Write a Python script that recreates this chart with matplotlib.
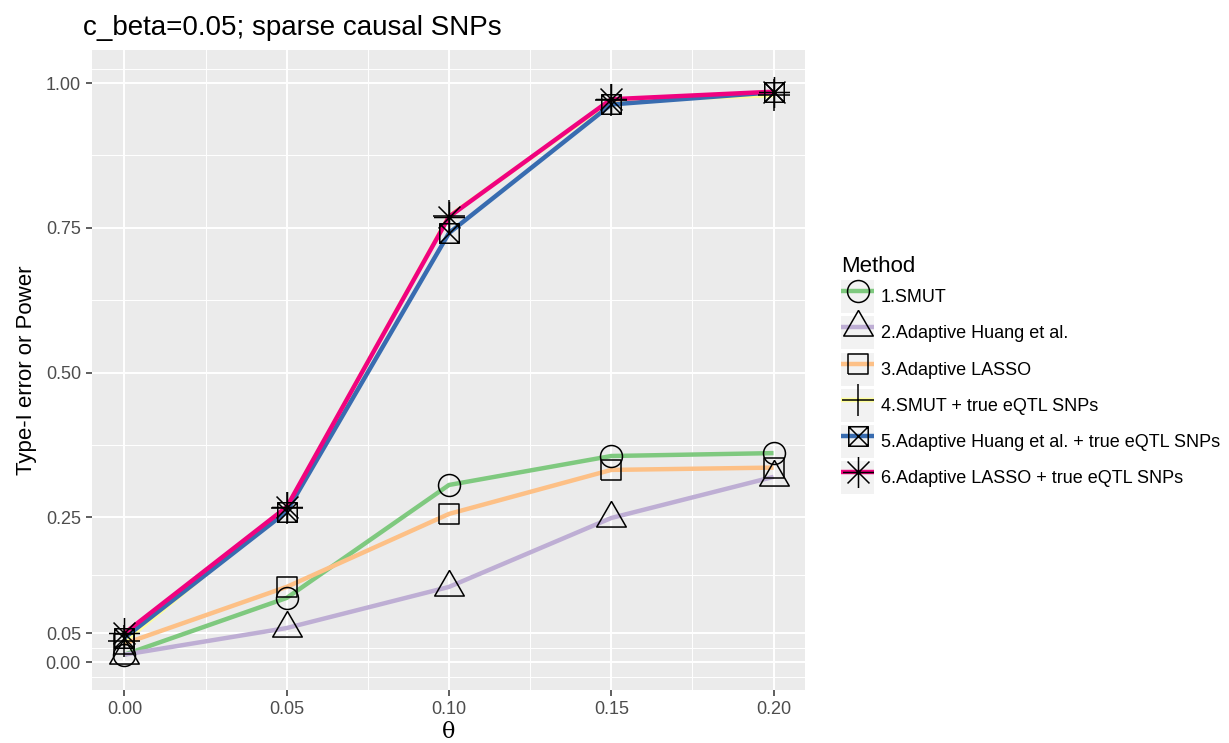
import numpy as np
import matplotlib
matplotlib.use("Agg")
import matplotlib.pyplot as plt
from matplotlib.path import Path
from matplotlib.lines import Line2D
from matplotlib.patches import Rectangle
from matplotlib.legend_handler import HandlerLine2D

plt.rcParams['font.family'] = ['Liberation Sans', 'DejaVu Sans']

# data
theta = [0.00, 0.05, 0.10, 0.15, 0.20]
methods = ["1.SMUT", "2.Adaptive Huang et al.", "3.Adaptive LASSO",
           "4.SMUT + true eQTL SNPs", "5.Adaptive Huang et al. + true eQTL SNPs",
           "6.Adaptive LASSO + true eQTL SNPs"]
smut = [0.013, 0.111, 0.306, 0.356, 0.361]
huang = [0.013, 0.059, 0.130, 0.249, 0.320]
lasso = [0.032, 0.130, 0.256, 0.332, 0.336]
smut_true = [0.036, 0.267, 0.770, 0.970, 0.979]
huang_true = [0.042, 0.260, 0.741, 0.963, 0.984]
lasso_true = [0.050, 0.268, 0.769, 0.972, 0.985]
series = [smut, huang, lasso, smut_true, huang_true, lasso_true]
colors = ["#7FC97F", "#BEAED4", "#FDC086", "#FFFF99", "#386CB0", "#F0027F"]
y_ticks = [0.00, 0.05, 0.25, 0.50, 0.75, 1.00]
x_ticks = [0.00, 0.05, 0.10, 0.15, 0.20]

# R-style point shapes (units of circle radius)
s2 = np.sqrt(2)
sq = 0.886
M, L = Path.MOVETO, Path.LINETO
circle_m = "o"
tri_m = Path([(0, 1.555), (1.347, -0.778), (-1.347, -0.778), (0, 1.555)],
             [M, L, L, L])
square_m = Path([(-sq, -sq), (sq, -sq), (sq, sq), (-sq, sq), (-sq, -sq)],
                [M, L, L, L, L])
plus_m = Path([(-s2, 0), (s2, 0), (0, -s2), (0, s2)], [M, L, M, L])
boxx_m = Path([(-sq, -sq), (sq, -sq), (sq, sq), (-sq, sq), (-sq, -sq),
               (sq, sq), (-sq, sq), (sq, -sq)],
              [M, L, L, L, L, L, M, L])
star_m = Path([(-1, -1), (1, 1), (-1, 1), (1, -1), (-s2, 0), (s2, 0), (0, -s2), (0, s2)],
              [M, L, M, L, M, L, M, L])
markers = [circle_m, tri_m, square_m, plus_m, boxx_m, star_m]
extent = [1.0, 1.555, sq, s2, sq, s2]
R = 7.9  # circle radius in points
sizes = [2 * R * e for e in extent]

LW = 3.2

fig = plt.figure(figsize=(12.29, 7.43), dpi=100)
ax = fig.add_axes([92 / 1229, 53 / 743, 713 / 1229, 640 / 743])
ax.set_facecolor("#EBEBEB")

# lines first, then points on top (as geom_line + geom_point)
for vals, c in zip(series, colors):
    ax.plot(theta, vals, color=c, lw=LW, solid_capstyle="butt",
            solid_joinstyle="round", zorder=3)
for vals, m, ms in zip(series, markers, sizes):
    ax.plot(theta, vals, ls="none", marker=m, ms=ms, mfc="none", mec="black",
            mew=1.1, zorder=4)

ax.set_xticks(x_ticks)
ax.set_xticklabels([f"{v:.2f}" for v in x_ticks])
ax.set_yticks(y_ticks)
ax.set_yticklabels([f"{v:.2f}" for v in y_ticks])
ax.set_xticks([-0.025, 0.025, 0.075, 0.125, 0.175], minor=True)
ax.set_yticks([-0.025, 0.025, 0.15, 0.375, 0.625, 0.875, 1.025], minor=True)
ax.set_xlim(-0.01, 0.2097)
ax.set_ylim(-0.048, 1.057)
ax.grid(which="major", color="white", lw=1.4, zorder=0)
ax.grid(which="minor", color="white", lw=0.7, zorder=0)
ax.set_axisbelow(True)
ax.tick_params(which="major", length=4, width=1.1, color="#333333",
               labelsize=13, labelcolor="#4D4D4D", pad=4)
ax.tick_params(which="minor", length=0)
for sp in ax.spines.values():
    sp.set_visible(False)

ax.set_xlabel("θ", fontsize=16, family=["DejaVu Serif"], labelpad=2)
ax.set_ylabel("Type-I error or Power", fontsize=16, labelpad=6)
fig.text(83 / 1229, 1 - 28 / 743, "c_beta=0.05; sparse causal SNPs",
         fontsize=20, ha="left", va="center")


class KeyHandler(HandlerLine2D):
    def create_artists(self, legend, orig_handle, xdescent, ydescent,
                       width, height, fontsize, trans):
        bg = Rectangle((-xdescent, -ydescent), width, height,
                       facecolor="#F2F2F2", edgecolor="none", transform=trans)
        arts = super().create_artists(legend, orig_handle, xdescent, ydescent,
                                      width, height, fontsize, trans)
        return [bg] + list(arts)


handles = [Line2D([], [], color=c, lw=LW, marker=m, ms=ms, mfc="none",
                  mec="black", mew=1.1, solid_capstyle="butt")
           for c, m, ms in zip(colors, markers, sizes)]
leg = fig.legend(handles, methods, loc="upper left",
                 bbox_to_anchor=(834 / 1229, 1 - 249 / 743),
                 title="Method", title_fontsize=16, fontsize=13,
                 frameon=False, handlelength=1.83, handleheight=2.44,
                 labelspacing=0.17, handletextpad=0.35, borderaxespad=0,
                 alignment="left",
                 handler_map={Line2D: KeyHandler(marker_pad=0, numpoints=1)})

fig.savefig("out.png", dpi=100)
